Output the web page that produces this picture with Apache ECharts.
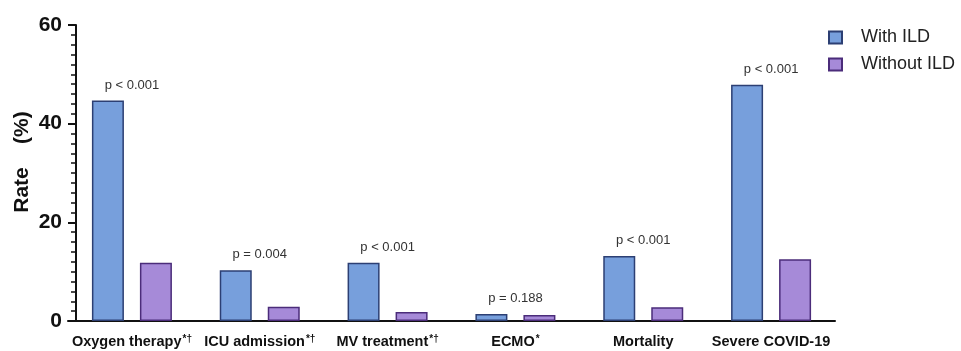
<!DOCTYPE html>
<html>
<head>
<meta charset="utf-8">
<script src="https://cdn.jsdelivr.net/npm/echarts@6/dist/echarts.min.js"></script>
<style>html,body{margin:0;padding:0;background:#fff;}#chart{width:961px;height:351px;}</style>
</head>
<body>
<div id="chart"></div>
<script>
var categories = ['Oxygen therapy', 'ICU admission', 'MV treatment', 'ECMO', 'Mortality', 'Severe COVID-19'];
var superscripts = ['*\u2020', '*\u2020', '*\u2020', '*', '', ''];
var withILD = [44.7, 10.3, 11.8, 1.4, 13.2, 47.9];
var withoutILD = [11.8, 2.9, 1.8, 1.2, 2.8, 12.5];
var pValues = ['p < 0.001', 'p = 0.004', 'p < 0.001', 'p = 0.188', 'p < 0.001', 'p < 0.001'];
var yTicks = [0, 20, 40, 60];

var FONT = '"Liberation Sans", Arial, sans-serif';
var chart = echarts.init(document.getElementById('chart'));
chart.setOption({
  animation: false,
  backgroundColor: '#fff',
  textStyle: { fontFamily: FONT },
  grid: { left: 68, right: 126, top: 25, bottom: 30, containLabel: false },
  legend: {
    orient: 'vertical', left: 823, top: 22,
    itemWidth: 13, itemHeight: 12, itemGap: 6, icon: 'rect',
    data: ['With ILD', 'Without ILD'],
    textStyle: { fontSize: 18, color: '#222', fontFamily: FONT, padding: [0, 0, 0, 14], lineHeight: 21 }
  },
  xAxis: {
    type: 'category',
    data: categories,
    axisLine: { lineStyle: { color: '#111', width: 2 } },
    axisTick: { alignWithLabel: true, length: 10, lineStyle: { color: '#111', width: 2 } },
    axisLabel: {
      interval: 0, margin: 13, color: '#111', fontSize: 14.5, fontWeight: 'bold', fontFamily: FONT,
      formatter: function (v, i) {
        var s = superscripts[i];
        return s ? v + '{sup|' + s + '}' : v;
      },
      rich: { sup: { fontSize: 10, fontWeight: 'bold', color: '#111', verticalAlign: 'top', padding: [0, 0, 6, 1], fontFamily: FONT } }
    }
  },
  yAxis: {
    type: 'value', min: 0, max: 60, interval: 20, offset: -8,
    name: 'Rate    (%)', nameLocation: 'middle', nameGap: 43, nameMoveOverlap: false,
    nameTextStyle: { fontSize: 21, fontWeight: 'bold', color: '#111', fontFamily: FONT, padding: [0, 0, 0, 22] },
    axisLine: { show: true, lineStyle: { color: '#111', width: 2 } },
    axisTick: { show: true, length: 8, lineStyle: { color: '#111', width: 2 } },
    minorTick: { show: true, splitNumber: 10, length: 5, lineStyle: { color: '#111', width: 1.5 } },
    splitLine: { show: false },
    axisLabel: {
      margin: 14, color: '#111', fontSize: 21, fontWeight: 'bold', fontFamily: FONT,
      formatter: function (v) { return yTicks.indexOf(v) >= 0 ? String(v) : ''; }
    }
  },
  series: [
    {
      name: 'With ILD', type: 'bar', data: withILD, barWidth: 32, barGap: '50%',
      itemStyle: { color: '#779fdc', borderColor: '#2c3f73', borderWidth: 1.5 },
      label: {
        show: true, position: 'top', distance: 9, offset: [24, 0],
        fontSize: 13, color: '#333', fontFamily: FONT,
        formatter: function (p) { return pValues[p.dataIndex]; }
      }
    },
    {
      name: 'Without ILD', type: 'bar', data: withoutILD, barWidth: 32,
      itemStyle: { color: '#a68ad8', borderColor: '#4b2c7a', borderWidth: 1.5 }
    }
  ]
});
</script>
</body>
</html>
